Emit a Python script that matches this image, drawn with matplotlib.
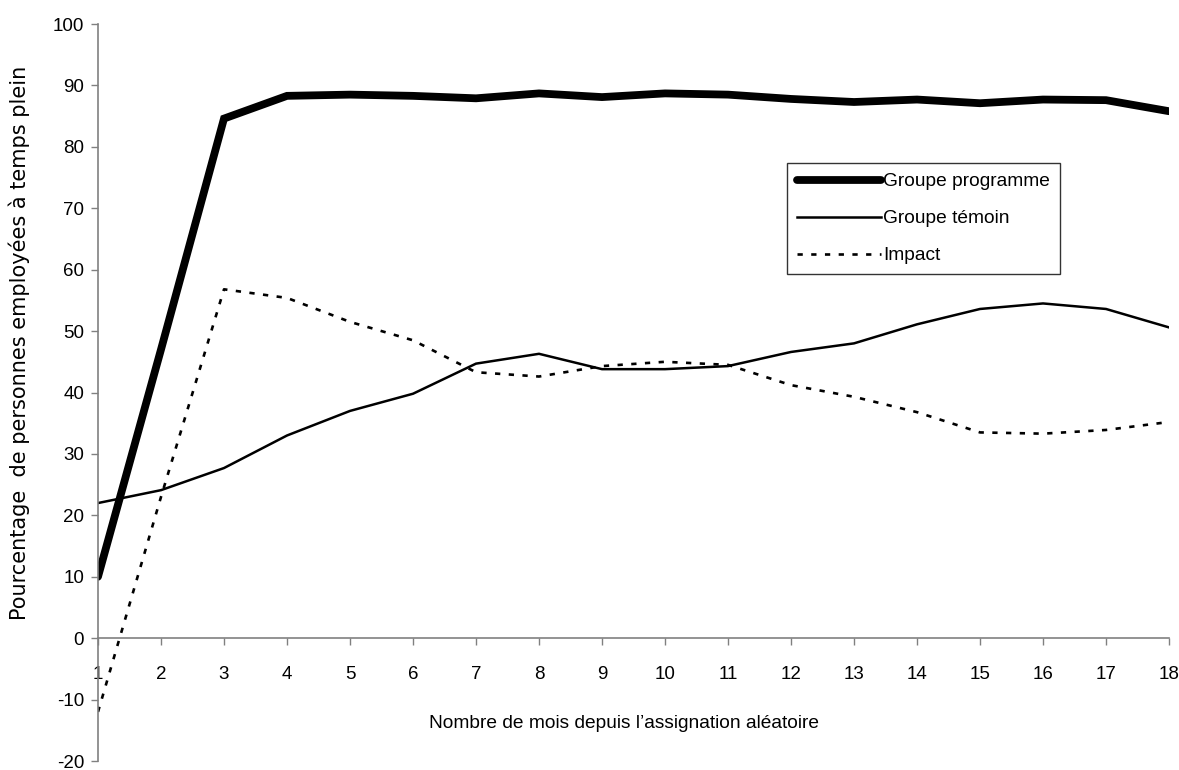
import matplotlib
matplotlib.use("Agg")
import matplotlib.pyplot as plt

plt.rcParams['font.family'] = ['Liberation Sans', 'DejaVu Sans']
plt.rcParams['axes.unicode_minus'] = False

months = list(range(1, 19))
programme = [10, 47, 84.6, 88.3, 88.5, 88.3, 87.9, 88.7, 88.1, 88.7, 88.5, 87.8, 87.3, 87.7, 87.1, 87.7, 87.6, 85.8]
temoin = [22, 24.1, 27.7, 33.0, 37.0, 39.8, 44.7, 46.3, 43.8, 43.8, 44.3, 46.6, 48.0, 51.1, 53.6, 54.5, 53.6, 50.6]
impact = [-12, 23, 56.8, 55.4, 51.5, 48.5, 43.3, 42.6, 44.3, 45.0, 44.5, 41.2, 39.3, 36.8, 33.5, 33.3, 33.9, 35.2]

labels = ["Groupe programme", "Groupe témoin", "Impact"]
yticks = list(range(-20, 101, 10))

W, H = 1179, 770
FS = 13.8
fig = plt.figure(figsize=(W / 100, H / 100), dpi=100)
ax = fig.add_axes([98 / W, 1 - 761 / H, (1169 - 98) / W, (761 - 24) / H])

ax.plot(months, programme, color='black', lw=5.6, solid_capstyle='round', solid_joinstyle='miter', label=labels[0])
ax.plot(months, temoin, color='black', lw=1.8, label=labels[1])
ax.plot(months, impact, color='black', lw=1.9, linestyle=(0, (2.0, 3.2)), label=labels[2])

ax.set_xlim(1, 18)
ax.set_ylim(-20, 100)
ax.set_xticks(months)
ax.set_yticks(yticks)

for s in ['top', 'right']:
    ax.spines[s].set_visible(False)
ax.spines['bottom'].set_position(('data', 0))
for s in ['left', 'bottom']:
    ax.spines[s].set_color('#808080')
    ax.spines[s].set_linewidth(1.2)

ax.tick_params(axis='both', direction='out', length=5, width=1.0, color='#808080', labelsize=13.5, labelcolor='black')
ax.tick_params(axis='x', pad=15)
ax.tick_params(axis='y', pad=5)

fig.text(19 / W, 1 - 343 / H, "Pourcentage  de personnes employées à temps plein", rotation=90,
         ha='center', va='center', fontsize=15, family=['DejaVu Sans'])
fig.text(624 / W, 1 - 723 / H, "Nombre de mois depuis l\u2019assignation aléatoire",
         ha='center', va='center', fontsize=FS)

leg = ax.legend(loc='upper left', bbox_to_anchor=(787 / W, 1 - 163 / H), bbox_transform=fig.transFigure,
                borderaxespad=0, frameon=True, fancybox=False, edgecolor='black', fontsize=FS,
                handlelength=4.38, handletextpad=0.1, borderpad=0.52, labelspacing=1.02)
leg.get_frame().set_linewidth(1.0)

fig.savefig("out.png", dpi=100)
